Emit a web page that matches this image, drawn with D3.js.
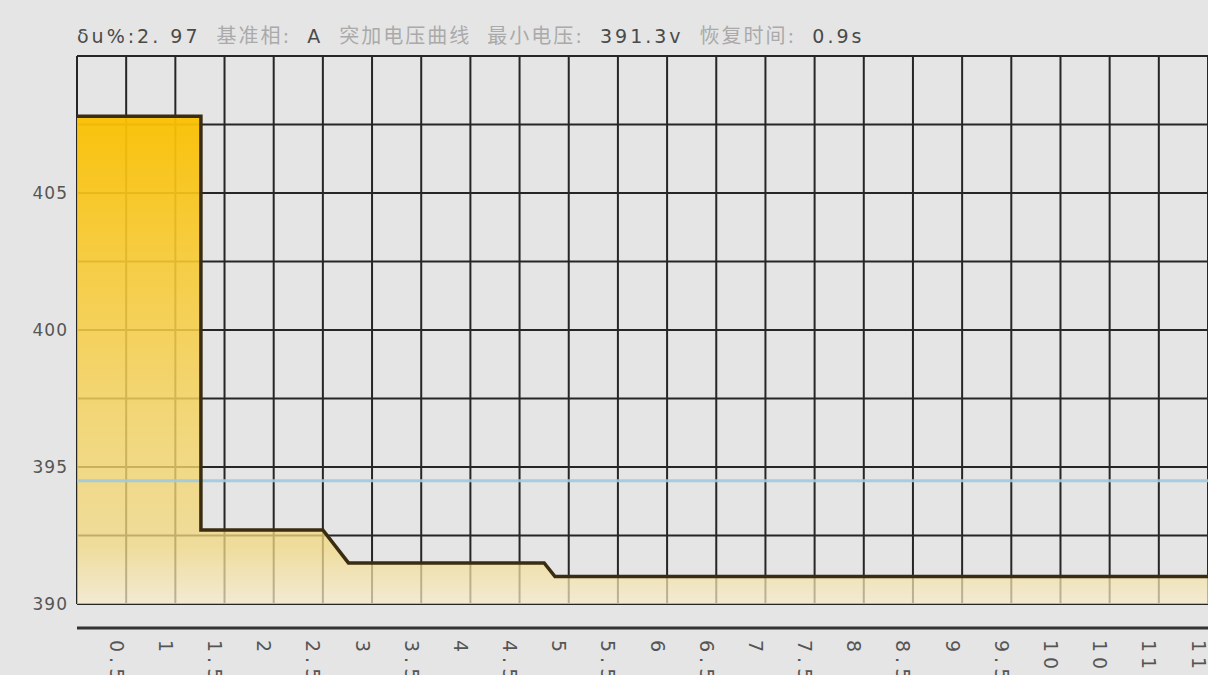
<!DOCTYPE html>
<html>
<head>
<meta charset="utf-8">
<script src="https://cdn.jsdelivr.net/npm/d3@7"></script>
<style>
  body { margin: 0; background: #e5e5e5; }
  svg { display: block; }
  .tick text { fill: #555; }
</style>
</head>
<body>
<div id="chart"></div>
<script>
var svgWidth = 1208;
var svgHeight = 675;

// step curve: time (s) and voltage (V)
var times = [0, 1.26, 1.26, 2.5, 2.76, 4.75, 4.86, 11.5];
var volts = [407.8, 407.8, 392.7, 392.7, 391.5, 391.5, 391.0, 391.0];

var refVolt = 394.5;

var xTicks = [0.5, 1, 1.5, 2, 2.5, 3, 3.5, 4, 4.5, 5, 5.5, 6, 6.5, 7, 7.5, 8, 8.5, 9, 9.5, 10, 10.5, 11, 11.5];
var yTicks = [390, 395, 400, 405];

// header text pieces: [text, dark?]
var header = [
  ["δu%:2. 97", true],
  ["基准相:", false],
  ["A", true],
  ["突加电压曲线", false],
  ["最小电压:", false],
  ["391.3v", true],
  ["恢复时间:", false],
  ["0.9s", true]
];

var svg = d3.select("#chart")
  .append("svg")
  .attr("width", svgWidth)
  .attr("height", svgHeight);

var x = d3.scaleLinear().domain([0, 11.5]).range([77, 1208]);
var y = d3.scaleLinear().domain([390, 410]).range([604, 56]);

// gradient for the area
var grad = svg.append("defs").append("linearGradient")
  .attr("id", "fillGrad")
  .attr("gradientUnits", "userSpaceOnUse")
  .attr("x1", 0).attr("x2", 0)
  .attr("y1", y(407.8)).attr("y2", y(390));
grad.append("stop").attr("offset", "0%").attr("stop-color", "#fbc000").attr("stop-opacity", 0.95);
grad.append("stop").attr("offset", "50%").attr("stop-color", "#f6d050").attr("stop-opacity", 0.85);
grad.append("stop").attr("offset", "88%").attr("stop-color", "#f2d982").attr("stop-opacity", 0.75);
grad.append("stop").attr("offset", "100%").attr("stop-color", "#f8eccb").attr("stop-opacity", 0.7);

// grid
var grid = svg.append("g");
grid.selectAll("line.v")
  .data(d3.range(0, 11.51, 0.5))
  .enter()
  .append("line")
  .attr("x1", d => x(d)).attr("x2", d => x(d))
  .attr("y1", y(410)).attr("y2", y(390))
  .attr("stroke", "#262626")
  .attr("stroke-width", 2);

grid.selectAll("line.h")
  .data(d3.range(390, 410.1, 2.5))
  .enter()
  .append("line")
  .attr("x1", x(0)).attr("x2", x(11.5))
  .attr("y1", d => y(d)).attr("y2", d => y(d))
  .attr("stroke", "#262626")
  .attr("stroke-width", 2);

var pts = times.map((t, i) => [t, volts[i]]);

// area under the curve
svg.append("path")
  .datum(pts)
  .attr("fill", "url(#fillGrad)")
  .attr("d", d3.area().x(d => x(d[0])).y0(y(390)).y1(d => y(d[1])));

// reference line
svg.append("line")
  .attr("x1", x(0)).attr("x2", x(11.5))
  .attr("y1", y(refVolt)).attr("y2", y(refVolt))
  .attr("stroke", "#9fcbe0")
  .attr("stroke-width", 3)
  .attr("opacity", 0.9);

// the voltage curve
svg.append("path")
  .datum(pts)
  .attr("fill", "none")
  .attr("stroke", "#3a2c10")
  .attr("stroke-width", 3.5)
  .attr("d", d3.line().x(d => x(d[0])).y(d => y(d[1])));

// y axis labels
var yAxis = svg.append("g")
  .attr("transform", `translate(${x(0)}, 0)`)
  .call(d3.axisLeft(y).tickValues(yTicks).tickSize(0).tickPadding(9));
yAxis.select(".domain").remove();
yAxis.selectAll("text")
  .attr("font-family", "DejaVu Sans, sans-serif")
  .attr("font-size", 17)
  .attr("letter-spacing", 1);

// x axis line + rotated labels
svg.append("line")
  .attr("x1", x(0)).attr("x2", x(11.5))
  .attr("y1", 628).attr("y2", 628)
  .attr("stroke", "#333")
  .attr("stroke-width", 3);

var xAxis = svg.append("g")
  .attr("transform", "translate(0, 628)")
  .call(d3.axisBottom(x).tickValues(xTicks).tickSize(0)
    .tickFormat(d => Number.isInteger(d) ? d : d3.format(".1f")(d)));
xAxis.select(".domain").remove();
xAxis.selectAll("text")
  .attr("font-family", "DejaVu Sans, sans-serif")
  .attr("font-size", 19)
  .attr("letter-spacing", 5)
  .attr("transform", "rotate(90)")
  .attr("x", 12)
  .attr("y", 17)
  .attr("dy", 0)
  .style("text-anchor", "start");

// header
var head = svg.append("text")
  .attr("x", 77)
  .attr("y", 43)
  .attr("font-family", "DejaVu Sans, Noto Sans CJK SC, sans-serif");
head.selectAll("tspan")
  .data(header)
  .enter()
  .append("tspan")
  .attr("dx", (d, i) => i === 0 ? 0 : 16)
  .attr("font-size", d => d[1] ? 19 : 20)
  .attr("letter-spacing", d => d[1] ? 3 : 2)
  .attr("fill", d => d[1] ? "#4a4a4a" : "#aaaaaa")
  .text(d => d[0]);
</script>
</body>
</html>
